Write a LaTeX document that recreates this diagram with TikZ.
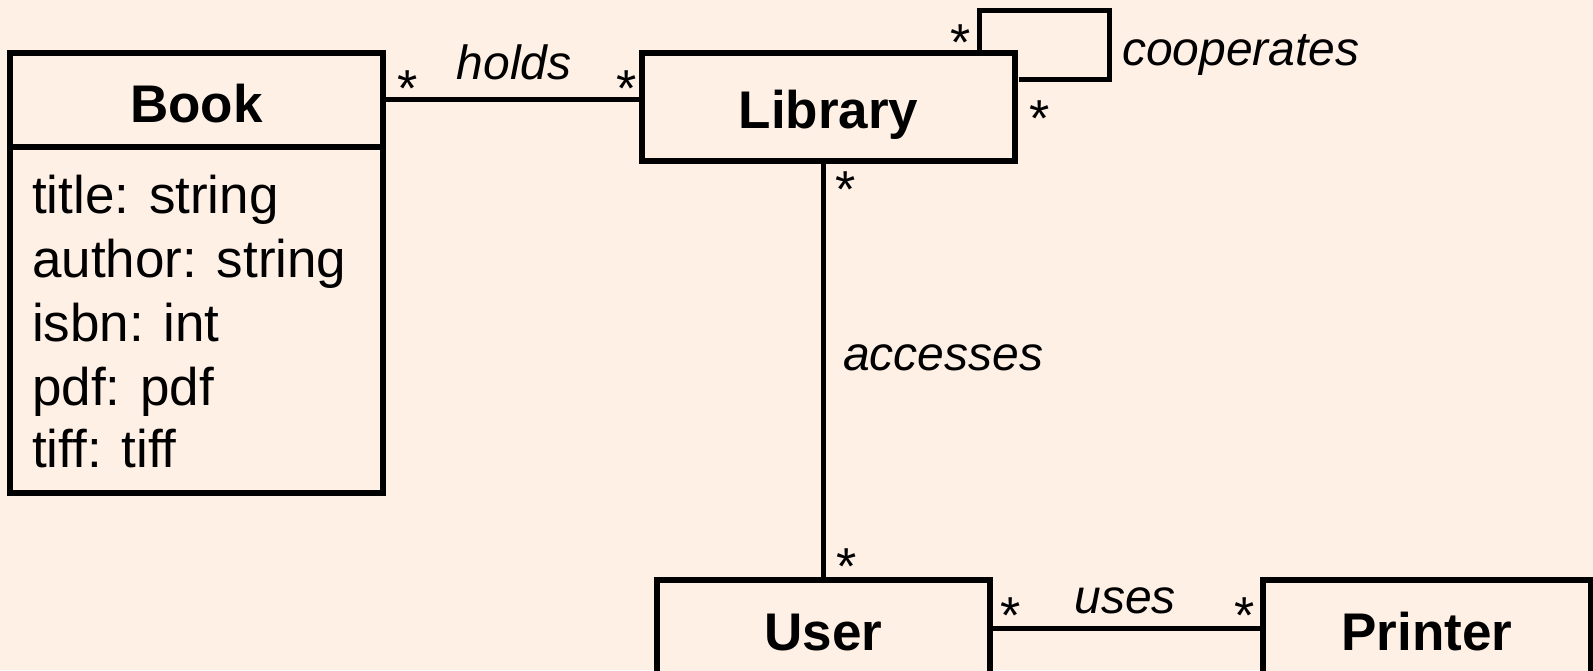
\documentclass[tikz,border=0pt]{standalone}
\usepackage{fontspec}
\setmainfont{Liberation Sans}
\definecolor{paper}{RGB}{255,240,230}
\begin{document}
\begin{tikzpicture}[x=1pt,y=-1pt,
  umlbox/.style={draw=black,line width=5.2pt,fill=paper,inner sep=0pt},
  assoc/.style={draw=black,line width=5pt},
  classname/.style={font=\fontsize{53}{60}\selectfont\bfseries,anchor=base,inner sep=0pt},
  attr/.style={font=\fontsize{53}{60}\selectfont,anchor=base west,inner sep=0pt},
  rolename/.style={font=\fontsize{48}{56}\selectfont\itshape,inner sep=0pt},
  mult/.style={font=\fontsize{52}{56}\selectfont,anchor=base,inner sep=0pt}]

% page background
\fill[paper] (0,0) rectangle (1593,670);
\useasboundingbox (0,0) rectangle (1593,670);
\clip (0,0) rectangle (1593,670);

% class Book with its attribute compartment
\node[umlbox,minimum width=373pt,minimum height=440pt] (book) at (196.5,273) {};
\node[classname] (booktitle) at (196.5,122) {Book};
\draw[line width=5.2pt] (book.west |- 0,147) -- (book.east |- 0,147);
\node[attr] (a1) at (32,213) {title: string};
\node[attr] (a2) at (32,277) {author: string};
\node[attr] (a3) at (32,341) {isbn: int};
\node[attr] (a4) at (32,405) {pdf: pdf};
\node[attr] (a5) at (32,467) {tiff: tiff};

% other classes
\node[umlbox,minimum width=373pt,minimum height=108pt] (library) at (828.5,107) {};
\node[classname] (libtitle) at (828.5,128) {Library};
\node[umlbox,minimum width=333pt,minimum height=120pt] (user) at (823.5,640) {};
\node[classname] (usertitle) at (823.5,650) {User};
\node[umlbox,minimum width=328pt,minimum height=120pt] (printer) at (1427,640) {};
\node[classname] (printertitle) at (1427,650) {Printer};

% associations
\draw[assoc] (book.east |- 0,99) -- (library.west |- 0,99);
\draw[assoc] (library.south -| user.north) -- (user.north);
\draw[assoc] (user.east |- 0,628) -- (printer.west |- 0,628);
\coordinate (loopend) at (1019,79);
\draw[assoc] (library.north -| 979,0) |- (1109,10) |- (loopend);

% role names and multiplicities
\node[rolename,anchor=base] (holdslbl) at (514,79) {holds};
\node[mult] (m1) at (408,106) {*};
\node[mult] (m2) at (627,106) {*};
\node[rolename,anchor=base west] (cooplbl) at (1122,65) {cooperates};
\node[mult] (m3) at (961,60) {*};
\node[mult] (m4) at (1040,136) {*};
\node[mult] (m5) at (846,207) {*};
\node[rolename,anchor=base west] (acclbl) at (843,370) {accesses};
\node[mult] (m6) at (847,584) {*};
\node[rolename,anchor=base] (useslbl) at (1125,613) {uses};
\node[mult] (m7) at (1011,633) {*};
\node[mult] (m8) at (1245,633) {*};
\end{tikzpicture}
\end{document}
